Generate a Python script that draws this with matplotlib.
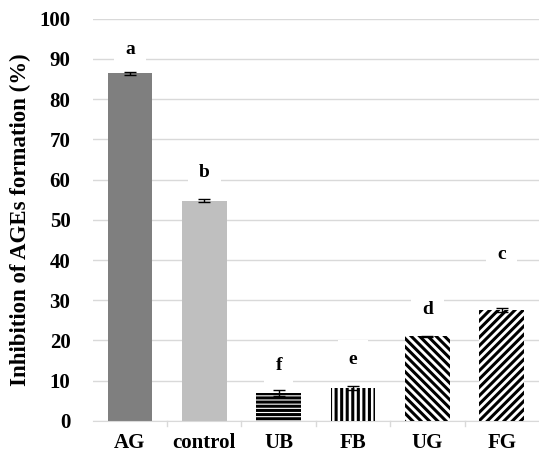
import numpy as np
import matplotlib.pyplot as plt

plt.rcParams['font.family'] = ['Liberation Serif', 'DejaVu Serif']
plt.rcParams['hatch.linewidth'] = 2.2

categories = ['AG', 'control', 'UB', 'FB', 'UG', 'FG']
values = [86.4, 54.8, 7.0, 8.3, 21.0, 27.6]
errors = [0.3, 0.3, 0.8, 0.5, 0.2, 0.5]
letters = ['a', 'b', 'f', 'e', 'd', 'c']
letter_y = [92.3, 61.7, 13.9, 15.2, 27.6, 41.5]
colors = ['#7f7f7f', '#bfbfbf', 'white', 'white', 'white', 'white']
hatches = [None, None, '----', '|||', '\\\\\\\\', '////']

fig = plt.figure(figsize=(5.39, 4.58), dpi=100)
ax = fig.add_axes([0.172, 0.081, 0.828, 0.878])

x = np.arange(len(categories))
for i in range(len(categories)):
    if hatches[i]:
        ax.bar(x[i], values[i], width=0.6, color='white', hatch=hatches[i],
               edgecolor='black', linewidth=0, zorder=3)
    else:
        ax.bar(x[i], values[i], width=0.6, color=colors[i], linewidth=0, zorder=2)
ax.errorbar(x, values, yerr=errors, fmt='none', ecolor='black',
            elinewidth=1, capsize=4, capthick=1, zorder=4)

for i in range(len(categories)):
    ax.text(x[i], letter_y[i], letters[i], ha='center', va='center',
            fontsize=14, fontweight='bold',
            bbox=dict(facecolor='white', edgecolor='none', pad=8), zorder=5)

ax.set_xlim(-0.5, len(categories) - 0.5)
ax.set_ylim(0, 100)
ax.set_yticks(range(0, 101, 10))
ax.set_xticks(x)
ax.set_xticklabels(categories, fontsize=15, fontweight='bold')
ax.tick_params(axis='y', labelsize=15, length=0, pad=16)
ax.tick_params(axis='x', length=0, pad=9)
for lab in ax.get_yticklabels():
    lab.set_fontweight('bold')
for xm in np.arange(0.5, len(categories) - 1, 1):
    ax.plot([xm, xm], [0, -1.3], color='#d9d9d9', lw=1, clip_on=False, zorder=1)

ax.yaxis.grid(True, color='#d9d9d9', lw=1, zorder=0)
ax.set_axisbelow(True)
for s in ['top', 'right', 'left']:
    ax.spines[s].set_visible(False)
ax.spines['bottom'].set_color('#d9d9d9')

ax.set_ylabel('Inhibition of AGEs formation (%)', fontsize=16.5, fontweight='bold', labelpad=6)

fig.savefig('out.png', dpi=100)
